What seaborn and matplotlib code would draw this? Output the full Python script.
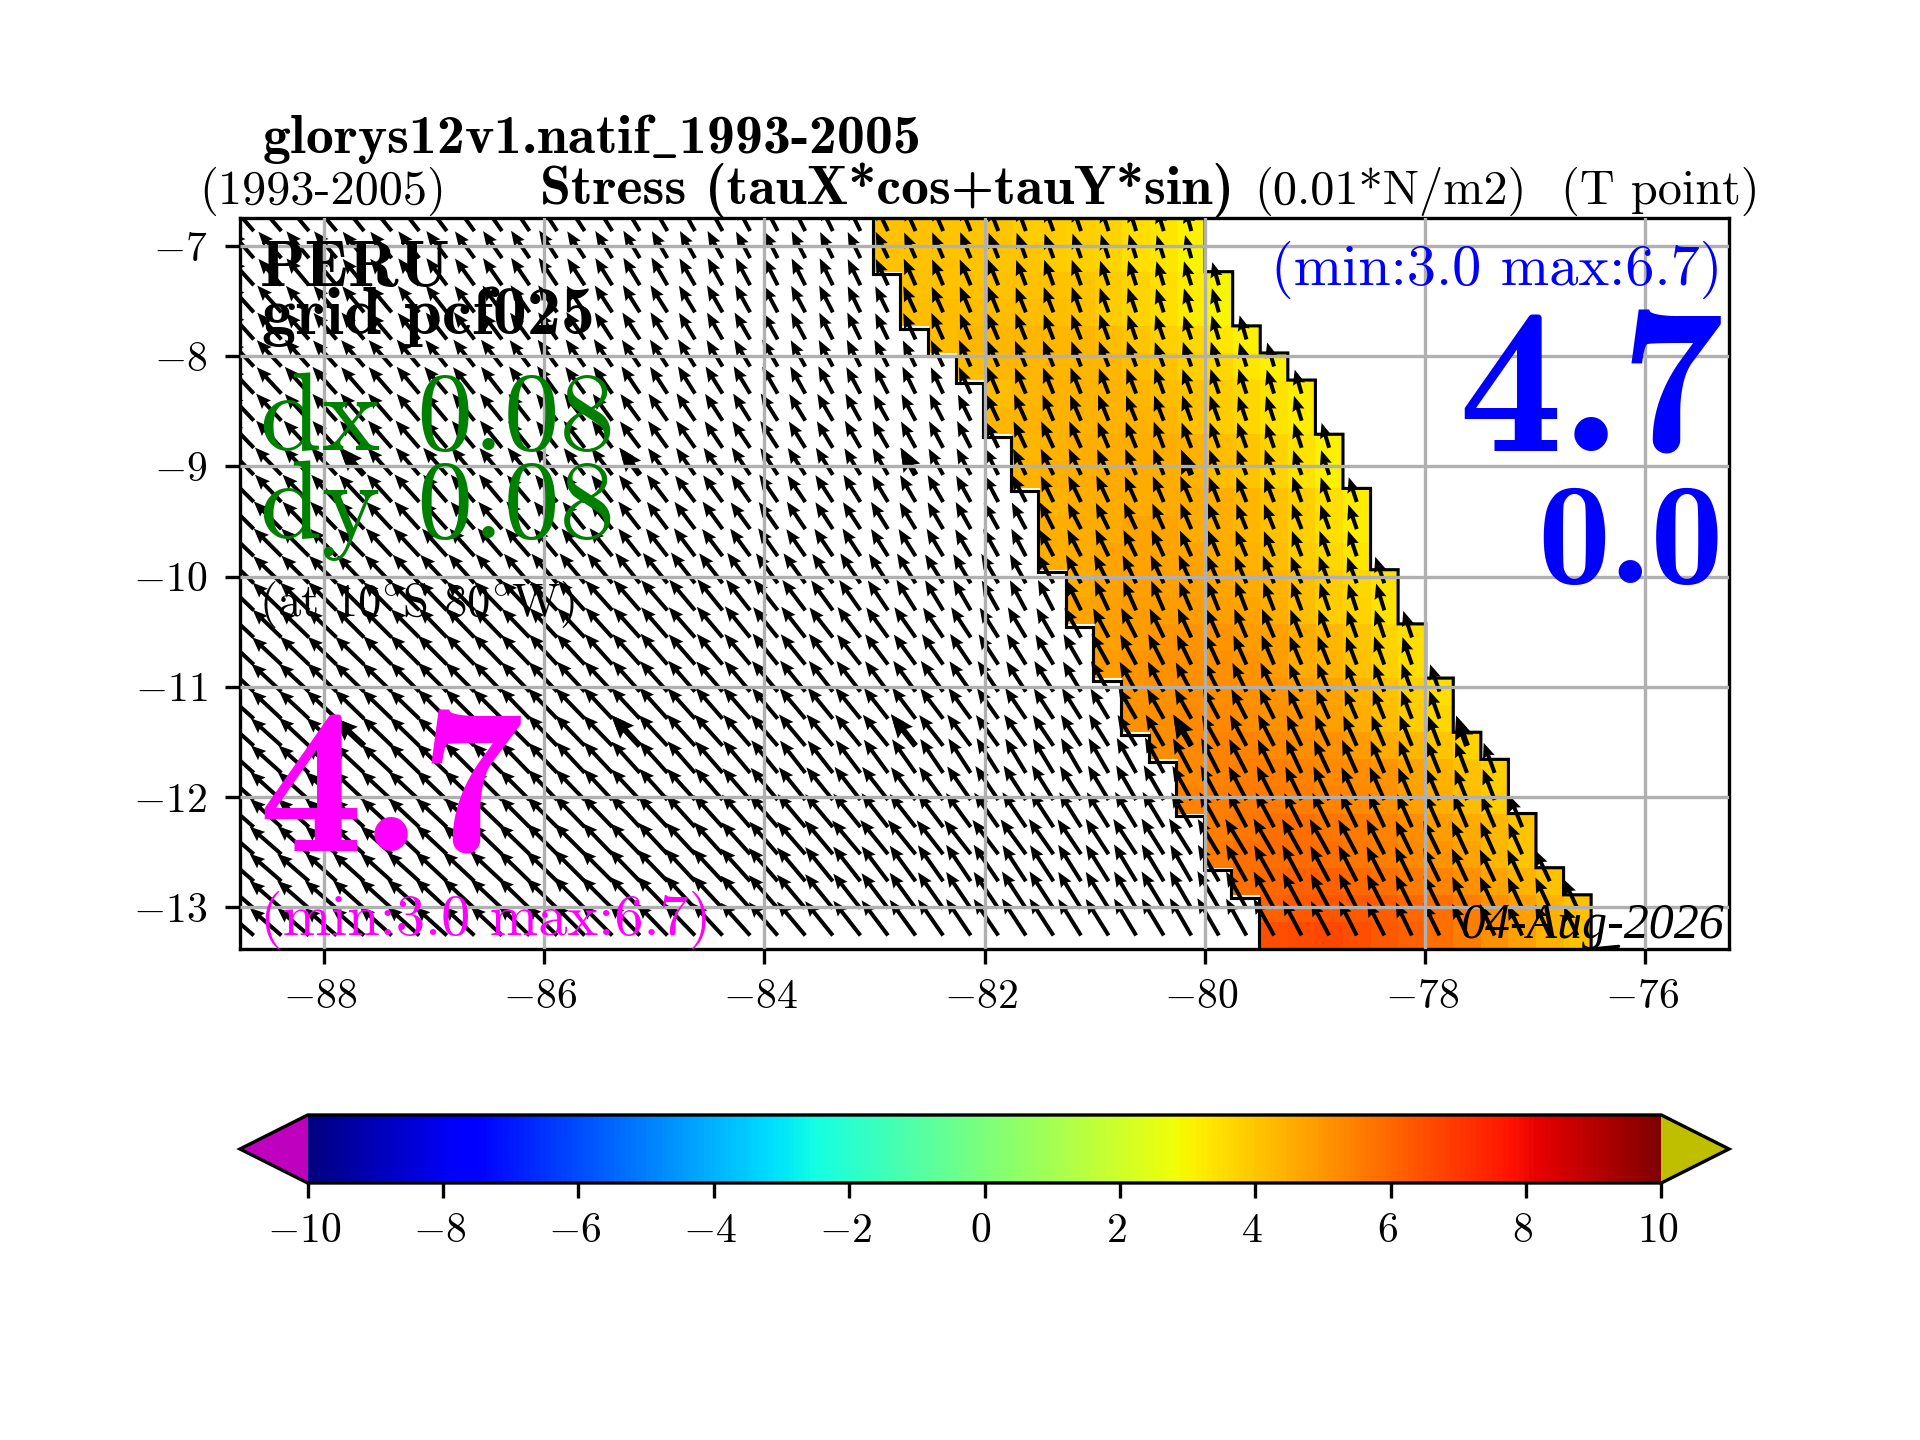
import warnings
import numpy as np
import pandas as pd
import matplotlib
matplotlib.use("Agg")
import matplotlib.pyplot as plt
import matplotlib.transforms as mtrans
import seaborn as sns

# ---- axis calibration (degrees) ----
LON_LEFT, LON_RIGHT = -88.758, -75.242
LAT_TOP, LAT_BOTTOM = -6.741, -13.38
LON_TICKS = [-88, -86, -84, -82, -80, -78, -76]
LAT_TICKS = [-7, -8, -9, -10, -11, -12, -13]
CBAR_TICKS = [-10, -8, -6, -4, -2, 0, 2, 4, 6, 8, 10]
N_COLS, N_ROWS = 54, 27

# ---- coast: right edge (column index) of the sea, per row; the coloured band is 12 cells wide ----
COAST_EAST = [35, 35, 36, 36, 37, 38, 39, 39, 40, 40, 41, 41, 41, 42, 42, 43, 43, 44, 44, 45, 46, 46, 47, 47, 48, 49, 49]

# ---- stress (0.01 N/m2) in the coastal band, per row, west to east ----
BAND = [
    [4.1, 4.1, 4.0, 4.0, 4.0, 3.9, 3.9, 3.8, 3.7, 3.5, 3.3, 3.1],
    [4.1, 4.1, 4.1, 4.0, 4.0, 4.0, 3.9, 3.8, 3.7, 3.5, 3.3, 3.0],
    [4.1, 4.1, 4.1, 4.1, 4.1, 4.1, 4.0, 3.9, 3.7, 3.5, 3.2, 3.0],
    [4.2, 4.2, 4.2, 4.2, 4.2, 4.2, 4.1, 3.9, 3.7, 3.5, 3.2, 3.0],
    [4.2, 4.3, 4.3, 4.3, 4.3, 4.3, 4.2, 4.0, 3.8, 3.6, 3.3, 3.1],
    [4.2, 4.3, 4.3, 4.3, 4.3, 4.3, 4.2, 4.0, 3.8, 3.6, 3.3, 3.1],
    [4.2, 4.3, 4.4, 4.4, 4.4, 4.3, 4.2, 4.1, 3.9, 3.6, 3.4, 3.2],
    [4.3, 4.4, 4.4, 4.4, 4.4, 4.4, 4.3, 4.1, 3.9, 3.6, 3.4, 3.2],
    [4.3, 4.4, 4.5, 4.5, 4.5, 4.5, 4.4, 4.2, 4.0, 3.7, 3.4, 3.1],
    [4.4, 4.5, 4.5, 4.6, 4.6, 4.5, 4.4, 4.2, 4.0, 3.7, 3.4, 3.1],
    [4.4, 4.5, 4.6, 4.6, 4.6, 4.6, 4.5, 4.3, 4.1, 3.8, 3.5, 3.2],
    [4.5, 4.6, 4.6, 4.7, 4.7, 4.6, 4.5, 4.3, 4.1, 3.8, 3.5, 3.2],
    [4.5, 4.6, 4.7, 4.7, 4.7, 4.7, 4.6, 4.4, 4.2, 3.9, 3.6, 3.3],
    [4.6, 4.7, 4.8, 4.8, 4.8, 4.7, 4.6, 4.4, 4.2, 3.9, 3.6, 3.4],
    [4.7, 4.8, 4.9, 4.9, 4.9, 4.8, 4.7, 4.5, 4.2, 3.9, 3.7, 3.4],
    [4.8, 4.9, 5.0, 5.0, 5.0, 4.9, 4.8, 4.6, 4.3, 4.0, 3.7, 3.5],
    [4.9, 5.0, 5.1, 5.1, 5.1, 5.0, 4.9, 4.6, 4.4, 4.1, 3.8, 3.5],
    [5.0, 5.1, 5.2, 5.2, 5.1, 5.0, 4.9, 4.7, 4.4, 4.1, 3.8, 3.5],
    [5.1, 5.2, 5.3, 5.3, 5.2, 5.1, 5.0, 4.8, 4.5, 4.2, 3.9, 3.6],
    [5.2, 5.3, 5.4, 5.4, 5.3, 5.2, 5.1, 4.9, 4.6, 4.3, 4.0, 3.7],
    [5.3, 5.4, 5.5, 5.5, 5.4, 5.3, 5.2, 5.0, 4.7, 4.4, 4.1, 3.8],
    [5.4, 5.5, 5.6, 5.6, 5.5, 5.4, 5.3, 5.1, 4.8, 4.5, 4.2, 3.9],
    [5.5, 5.7, 5.8, 5.8, 5.7, 5.6, 5.4, 5.2, 4.9, 4.6, 4.3, 4.0],
    [5.6, 5.8, 5.9, 5.9, 5.8, 5.7, 5.5, 5.3, 5.0, 4.7, 4.3, 4.0],
    [5.8, 6.0, 6.1, 6.1, 6.0, 5.8, 5.6, 5.4, 5.1, 4.7, 4.4, 4.1],
    [6.1, 6.3, 6.4, 6.3, 6.2, 6.0, 5.8, 5.5, 5.1, 4.8, 4.4, 4.1],
    [6.5, 6.6, 6.7, 6.5, 6.3, 6.1, 5.8, 5.5, 5.1, 4.8, 4.4, 4.1],
]

# ---- arrow tilt west of north: one base-36 digit per cell, degrees = 14 + digit ----
TILT_ROWS = [
    "rrqqpponmlkjjihgffeddccba9876654331",
    "rrqqpponmlkjjihgffeddccba9876654331",
    "srqqpponmlkkjihggfeddccba99876654332",
    "ssrrqqponmllkjiihgfeedccba9887665432",
    "ssrrqqponnmlkjjihggfedccba99877655432",
    "ttssrrqpoonmlkkjihhgfeddcba99877665432",
    "ttssrrqqponmmlkjiihgfeedcba998877665432",
    "ttssrrqqppoonmmlkjiihgffedcba9988766543",
    "uttssrrqqppoonnmlkkjihggfedcbba987766543",
    "uuttssrrqqppoonmllkjjihgffedccba98877654",
    "vuuttssrrqqppoonnmlkkjihggfedccba99887654",
    "vvuuttssrrqqpponnmmlkjjihgffeddcba9988765",
    "wvvuuttssrrqqpoonnmllkjiihgfeedccba998775",
    "wwvvuuttssrrqqppoonmmlkjiihgffedcba9988765",
    "wwwvvvvuuuttssrrqpoonmlkihgfedcba998776543",
    "xwwwvvvuuuuttssrrqppoonmlkjihgfedcba9987654",
    "xxwwwvvvuuuttssrrqqppoonmlkjihgfedcba998765",
    "xxxwwwvvvuuuttssrrqqpoonmmlkjihgfeedcba98765",
    "yxxxwwwvvvuuuttssrrqqpponnmlkjihgffedcba9876",
    "yyxxxwwwvvvuuuttssrrqqppoonmlkjihggfedcba9876",
    "yyyxxxwwvvuuttssrrqpoonmlkjihhggfeeddcbba98876",
    "yyyyxxxwwvvuuttssrrqppoonmlkjiihggfeedcbba9987",
    "zyyyyxxxwwvvuuttssrrqqpoonmlkjiihhgfeedccbaa998",
    "zzyyyyxxxwwvvuuttssrrqqppoonmlkjjiihhgffedccbaa",
    "zzzyyyyxxxwwvvuuttsrqponmlkkjjiihhggffeeddccbbbb",
    "zzzzyyyxxxwwvvuuttsrqponmlkkjjiihhggffeeddccbbbbb",
    "zzzzzyyyxxwwvvuuutsrqponmlkkjjiihhggffeeddccbbbbb",
]

# ---- arrow length: one base-36 digit per cell, length = 20 + digit ----
LENGTH_ROWS = [
    "ffffeeeeddddcccbbbaaa99988877665544",
    "ffffeeeeddddcccbbbaaa99988877665544",
    "ffffeeeeddddccccbbbaaa99988877766554",
    "ggffeeeeddddccccbbbaaa99988877766555",
    "ggfffeeeeddddcccbbbaaaa99988877766555",
    "gggffffeeeddddcccbbbaaaa99988877766655",
    "ggggffffeeeedddccccbbbaaa99988877766655",
    "hhggggffffeeeddddcccbbbaaa9998887777666",
    "hhhggggfffeeeedddcccbbbbaaa9999888777666",
    "iihhhggggfffeeeddddcccbbbaaa999888777766",
    "iiihhhhgggfffeeeddddcccbbbaaa999888777766",
    "jjiiihhhggggfffeeedddcccbbbaaa99988877766",
    "jjjiiiihhhhgggfffeeedddcccbbbaaa998887777",
    "jjjjjjjjjjjjjjjjjiihhggffeeeddccbbbaaa9988",
    "kkkkkkkkkkkkkkkkkkjjihhggffeeeddccbbbaa988",
    "kkkkkkkkkkkkkkkkkkkjjiihhggffeeddccbbbaa998",
    "kkkkkkllllllllllkkkkjjiihhhggfffeeddccbbaa99",
    "lllllllllllllllllkkkkjjiiihhggffeeddccbbaaa9",
    "llllllllllmmmmmmlllkkkkjjiihhggffeeeddccbbaa",
    "llllllllmmmmmmmmmmllllkkkjjiihhhgggfffeedddcc",
    "llllllmmmmmmmmmmmmmmllllllllkkkkkkjjihhggffedc",
    "mmmmmmmmmmmmmmmmmmmmmmmmllllllkkkkjjiihhggfedd",
    "mmmmmmmmmmmmnnnnnnnnnnnnmmmmmmllllkkjjiihhggfee",
    "mmmmmmmmnnnnnnnnnnnnnoooonnnnnmmmmmlllkkjjhhgfed",
    "mmmmmmnnnnnnoooooooooooooooonnnnnnmmmllkkjihgffe",
    "mmmmmnnnnnnnoooooooooooooooooonnnnnnmmkjjihgffeec",
    "mmmmnnnnnnnnoooooooooooooooooonnnnnnmmkjjihgffeec",
]

# ---- cells (row, column) holding the reference arrows drawn heavier ----
HEAVY_ROWS = [9, 19]
HEAVY_COLS = [4, 14, 24, 34, 44]

TITLE_TOP = r"glorys12v1.natif$\_$1993-2005"
TITLE_PERIOD = "(1993-2005)"
TITLE_VAR = "Stress (tauX*cos+tauY*sin)"
TITLE_UNITS = "(0.01*N/m2)"
TITLE_POINT = "(T point)"
LABEL_AREA = "PERU"
LABEL_GRID = "grid pcf025"
LABEL_DX = "dx 0.08"
LABEL_DY = "dy 0.08"
LABEL_AT = r"(at 10$^{\circ}$S 80$^{\circ}$W)"
LABEL_MEAN = "4.7"
LABEL_STD = "0.0"
LABEL_RANGE = "(min:3.0 max:6.7)"
LABEL_DATE = "04-Aug-2026"

warnings.filterwarnings("ignore")
sns.set_theme(style="ticks")
plt.rcParams.update({
    "font.family": ["cmr10"], "mathtext.fontset": "cm", "axes.unicode_minus": False,
    "axes.linewidth": 0.8, "axes.edgecolor": "black", "text.color": "black",
    "xtick.color": "black", "ytick.color": "black", "xtick.labelsize": 10, "ytick.labelsize": 10,
    "xtick.major.size": 3.5, "ytick.major.size": 3.5, "xtick.major.width": 0.8, "ytick.major.width": 0.8,
    "xtick.major.pad": 3.5, "ytick.major.pad": 3.5,
})

W, H = 1920, 1440
fig = plt.figure(figsize=(6.4, 4.8), dpi=300)
ax = fig.add_axes([240 / W, 1 - 949 / H, 1489 / W, 731.5 / H])
cax = fig.add_axes([240 / W, 1 - 1183 / H, 1489 / W, 68 / H])

# coloured band
field = np.full((N_ROWS, N_COLS), np.nan)
for j, (east, vals) in enumerate(zip(COAST_EAST, BAND)):
    field[j, east - len(vals):east] = vals
cmap = matplotlib.colormaps["jet"].with_extremes(under=(0.75, 0, 0.75), over=(0.75, 0.75, 0))
sns.heatmap(pd.DataFrame(field), ax=ax, cmap=cmap, vmin=-10, vmax=10, cbar_ax=cax,
            cbar_kws={"orientation": "horizontal", "extend": "both", "ticks": CBAR_TICKS},
            xticklabels=False, yticklabels=False)

# axes in degrees
dlon = (LON_RIGHT - LON_LEFT) / N_COLS
dlat = (LAT_TOP - LAT_BOTTOM) / N_ROWS
ax.set_xticks([(v - LON_LEFT) / dlon for v in LON_TICKS])
ax.set_xticklabels([f"${v}$" for v in LON_TICKS], rotation=0)
ax.set_yticks([(LAT_TOP - v) / dlat for v in LAT_TICKS])
ax.set_yticklabels([f"${v}$" for v in LAT_TICKS], rotation=0)
ax.tick_params(bottom=True, left=True, length=3.5, width=0.8, labelsize=10)
for s in ax.spines.values():
    s.set_visible(True); s.set_linewidth(0.8); s.set_color("black")

# stress arrows, tail at cell centres
xs, ys, us, vs = [], [], [], []
for j, (tilts, lens, east) in enumerate(zip(TILT_ROWS, LENGTH_ROWS, COAST_EAST)):
    tilts = tilts.ljust(east, tilts[-1])[:east]
    lens = lens.ljust(east, lens[-1])[:east]
    for i, (a, l) in enumerate(zip(tilts, lens)):
        ang = np.deg2rad(14 + int(a, 36))
        mag = 20 + int(l, 36)
        xs.append(i + 0.5); ys.append(j + 0.5)
        us.append(-mag * np.sin(ang)); vs.append(mag * np.cos(ang))
xs, ys, us, vs = map(np.array, (xs, ys, us, vs))
qkw = dict(angles="uv", scale_units="dots", scale=1, units="dots", pivot="tail", color="black", zorder=2)
ax.quiver(xs, ys, us, vs, width=4.0, headwidth=3.1, headlength=3.8, headaxislength=3.4, **qkw)
heavy = np.array([(int(x) in HEAVY_COLS) and (int(y) in HEAVY_ROWS) for x, y in zip(xs, ys)])
ax.quiver(xs[heavy], ys[heavy], us[heavy], vs[heavy], width=6.0, headwidth=3.2, headlength=3.9,
          headaxislength=3.5, **qkw)

# step outline of the band
def outline(edges, dx=0.0, dy=0.0):
    px, py = [], []
    for j, e in enumerate(edges):
        px += [e + dx, e + dx]
        py += [j + dy, j + 1 + dy]
    return px, py
ex, ey = outline(COAST_EAST)
ax.plot(ex + [COAST_EAST[-1] + 1], ey + [ey[-1] - 0.1], color="black", lw=0.75, zorder=2.2, solid_joinstyle="miter")
wx, wy = outline([e - 12 for e in COAST_EAST], dx=-0.05, dy=0.1)
ax.plot(wx, wy, color="black", lw=0.75, zorder=2.2, solid_joinstyle="miter")
ax.grid(True, color="#b0b0b0", lw=0.8)
ax.set_axisbelow(False)
for gl in ax.get_xgridlines() + ax.get_ygridlines():
    gl.set_zorder(2.5)

# colourbar
cb = ax.collections[0].colorbar
cb.outline.set_linewidth(0.8); cb.outline.set_edgecolor("black"); cb.outline.set_visible(True)
cb.ax.set_xticks(CBAR_TICKS)
cb.ax.set_xticklabels([f"${v}$" for v in CBAR_TICKS])
cb.ax.tick_params(bottom=True, length=3.5, width=0.8, labelsize=10)

# nudge tick labels to the reference's typesetting
nudge = mtrans.ScaledTranslation(-3.5 / 300, 0, fig.dpi_scale_trans)
for lab in ax.get_xticklabels() + ax.get_yticklabels() + cb.ax.get_xticklabels():
    lab.set_transform(lab.get_transform() + nudge)

# annotations, positioned in pixels (baseline)
def put(txt, x, y, size, color="black", ha="left", family="cmr10", style="normal"):
    fig.text(x / W, 1 - y / H, txt, fontsize=size, color=color, ha=ha, va="baseline",
             family=family, style=style, zorder=10)

put(TITLE_TOP, 262, 153, 13.4, family="cmb10")
put(TITLE_PERIOD, 199, 204, 11.6)
put(TITLE_VAR, 540, 204, 13.4, family="cmb10")
put(TITLE_UNITS, 1254, 204, 11.6)
put(TITLE_POINT, 1561, 204, 11.6)
put(LABEL_AREA, 260, 286, 16, family="cmb10")
put(LABEL_GRID, 262, 334, 16.3, family="cmb10")
put(LABEL_DX, 260, 450, 26.7, color="green")
put(LABEL_DY, 260, 538, 26.7, color="green")
put(LABEL_AT, 259, 616, 11.2)
put(LABEL_MEAN, 258, 852, 50, color="magenta", family="cmb10")
put(LABEL_RANGE, 260, 935, 14, color="magenta")
put(LABEL_RANGE, 1722, 285, 14, color="blue", ha="right")
put(LABEL_MEAN, 1724, 452, 50, color="blue", ha="right", family="cmb10")
put(LABEL_STD, 1724, 583, 35, color="blue", ha="right", family="cmb10")
put(LABEL_DATE, 1724, 938, 12, ha="right", family="Liberation Serif", style="italic")

fig.savefig("out.png", dpi=300)
